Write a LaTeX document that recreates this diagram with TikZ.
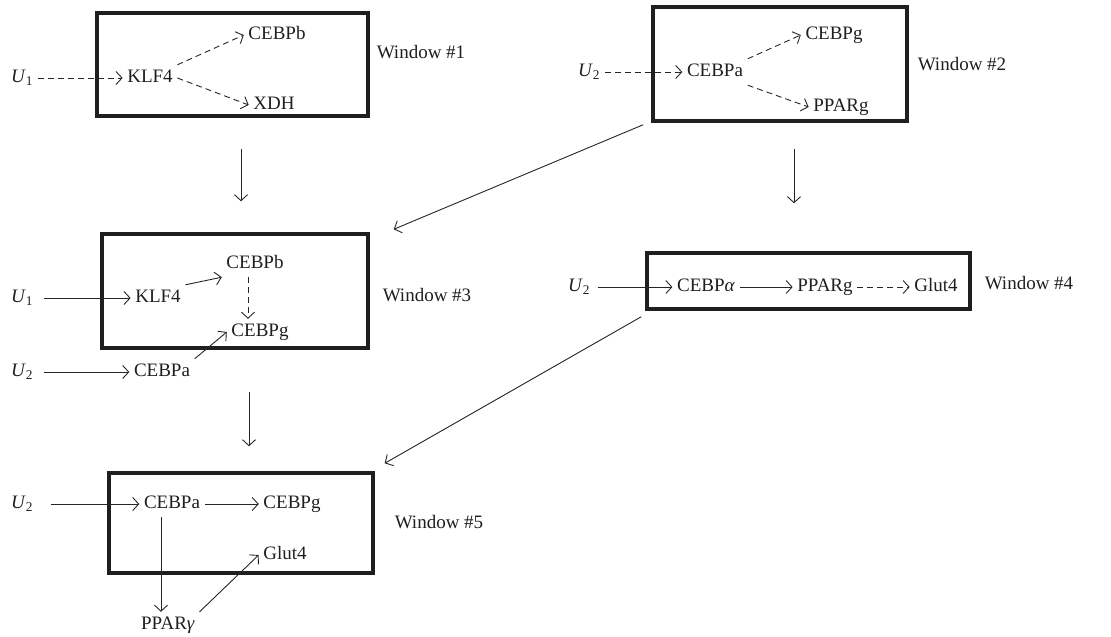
\documentclass[tikz,border=0pt]{standalone}
\usepackage{fontspec}
\setmainfont{Liberation Serif}
\usetikzlibrary{arrows.meta}
\newcommand{\uin}[1]{\textit{U}\textsubscript{#1}}
\tikzset{
  window box/.style={draw=black!88,line width=3.4pt,inner sep=0pt},
  window label/.style={text=black!88},
  gene/.style={inner sep=4.5pt,text height=13pt,text depth=4pt,text=black!88},
  link/.style={-{Straight Barb[length=6pt,width=13pt]},line width=0.9pt,draw=black!85},
  weak link/.style={link,dash pattern=on 6pt off 4pt}
}

\begin{document}
\begin{tikzpicture}[x=1pt,y=-1pt,font=\fontsize{19}{22}\selectfont]
    \useasboundingbox (0,0) rectangle (1111,637);
    % window #1
    \node[window box,minimum width=271pt,minimum height=103pt] (w1) at (232.5,64.5) {};
    \node[window label] (l1) at (421,52) {Window \#1};
    \node[gene] (u11) at (22,78) {\uin{1}};
    \node[gene] (k1) at (150,78) {KLF4};
    \node[gene] (b1) at (277,35) {CEBPb};
    \node[gene] (x1) at (274,105) {XDH};
    \draw[weak link] (u11) -- (k1);
    \draw[weak link] (k1.north east) -- (b1.west);
    \draw[weak link] (k1.east) -- (x1.west);
    % window #2
    \node[window box,minimum width=254pt,minimum height=114pt] (w2) at (780,64) {};
    \node[window label] (l2) at (962,64) {Window \#2};
    \node[gene] (u2) at (589,72) {\uin{2}};
    \node[gene] (a2) at (715,72) {CEBPa};
    \node[gene] (g2) at (834,35) {CEBPg};
    \node[gene] (p2) at (841,107) {PPARg};
    \draw[weak link] (u2) -- (a2);
    \draw[weak link] (a2.north east) -- (g2.west);
    \draw[weak link] (a2.south east) -- (p2.west);
    % window #3
    \node[window box,minimum width=266pt,minimum height=114pt] (w3) at (235,291) {};
    \node[window label] (l3) at (427,295) {Window \#3};
    \node[gene] (u13) at (22,298) {\uin{1}};
    \node[gene] (k3) at (158,298) {KLF4};
    \node[gene] (b3) at (255,264) {CEBPb};
    \node[gene] (g3) at (260,332) {CEBPg};
    \node[gene] (u23) at (22,372) {\uin{2}};
    \node[gene] (a3) at (162,372) {CEBPa};
    \draw[link,shorten <=6pt] (u13) -- (k3);
    \draw[link] (k3.north east) -- (b3.south west);
    \draw[weak link] ([xshift=-7pt]b3.south) -- ([xshift=-12pt]g3.north);
    \draw[link,shorten <=6pt] (u23) -- (a3);
    \draw[link] (a3.north east) -- (g3.west);
    % window #4
    \node[window box,minimum width=323pt,minimum height=56pt] (w4) at (808.5,281) {};
    \node[window label] (l4) at (1029,283) {Window \#4};
    \node[gene] (u24) at (579,287) {\uin{2}};
    \node[gene] (a4) at (706,287) {CEBP\textit{α}};
    \node[gene] (p4) at (825,287) {PPARg};
    \node[gene] (gl4) at (936,287) {Glut4};
    \draw[link,shorten <=3pt] (u24) -- (a4);
    \draw[link] (a4) -- (p4);
    \draw[weak link] (p4) -- (gl4);
    % window #5
    \node[window box,minimum width=264pt,minimum height=100pt] (w5) at (241,523) {};
    \node[window label] (l5) at (439,522) {Window \#5};
    \node[gene] (u25) at (22,504) {\uin{2}};
    \node[gene] (a5) at (172,504) {CEBPa};
    \node[gene] (g5) at (292,504) {CEBPg};
    \node[gene] (gl5) at (285,555) {Glut4};
    \node[gene] (p5) at (168,625) {PPAR\textit{γ}};
    \draw[link,shorten <=13pt] (u25) -- (a5);
    \draw[link] (a5) -- (g5);
    \draw[link] ([xshift=-11pt]a5.south) -- ([xshift=-7pt]p5.north);
    \draw[link] (p5.north east) -- (gl5.west);
    % between windows
    \draw[link] ([shift={(8.5,31)}]w1.south) -- ([shift={(6,-31)}]w3.north);
    \draw[link] ([shift={(14,26)}]w2.south) -- ([shift={(-14.5,-48)}]w4.north);
    \draw[link] ([shift={(14,42)}]w3.south) -- ([shift={(8,-25)}]w5.north);
    \draw[link] ([shift={(-8,2)}]w2.south west) -- ([shift={(24,-3)}]w3.north east);
    \draw[link] ([shift={(-4,6)}]w4.south west) -- ([shift={(10,-8)}]w5.north east);
  \end{tikzpicture}
\end{document}
